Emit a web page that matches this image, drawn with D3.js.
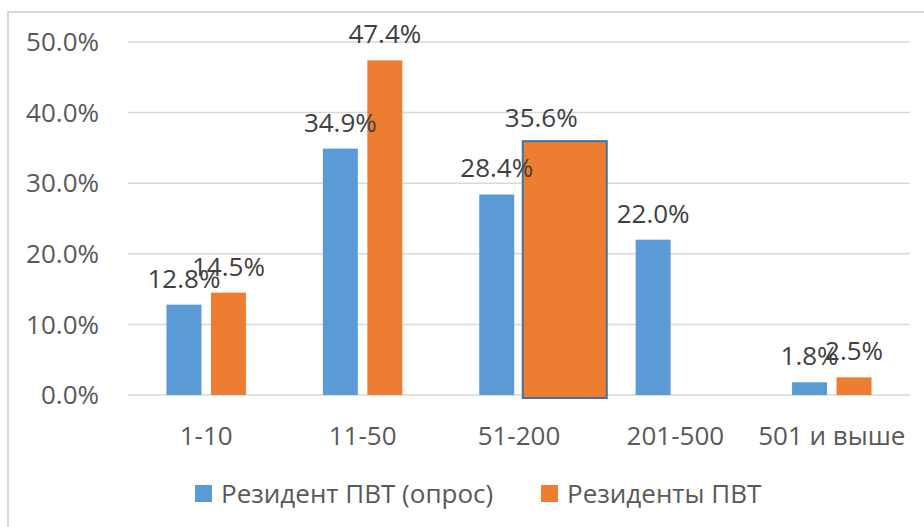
<!DOCTYPE html>
<html>
<head>
<meta charset="utf-8">
<script src="https://cdn.jsdelivr.net/npm/d3@7"></script>
<style>
  body { margin: 0; background: #fff; }
  svg { display: block; font-family: 'Open Sans', sans-serif; }
</style>
</head>
<body>
<div class="board"></div>
<script>
// chart data
var categories = ['1-10', '11-50', '51-200', '201-500', '501 и выше'];
var seriesNames = ['Резидент ПВТ (опрос)', 'Резиденты ПВТ'];
var surveyValues = [0.128, 0.349, 0.284, 0.220, 0.018];
var residentValues = [0.145, 0.474, 0.356, null, 0.025];
var yTicks = [0, 0.1, 0.2, 0.3, 0.4, 0.5];

var colors = ['#5b9bd5', '#ed7d31'];

var width = 924;
var height = 527;

var svg = d3.select('.board').append('svg')
  .attr('width', width)
  .attr('height', height);

// frame (only top / left edge visible)
svg.append('path')
  .attr('d', 'M8,' + height + 'V12H' + width)
  .attr('fill', 'none')
  .attr('stroke', '#d9d9d9')
  .attr('stroke-width', 2);

var x = d3.scaleBand().domain(categories).range([128, 910]);
var y = d3.scaleLinear().domain([0, 0.5]).range([395, 42]);

var barW = 35;
var groupW = 79.5;
var x1 = d3.scaleBand().domain([0, 1]).range([0, groupW]).paddingInner(0).paddingOuter(0);
var groupX = function(c) { return x(c) + (x.bandwidth() - groupW) / 2; };
var barX = function(c, s) { return groupX(c) + (s === 0 ? 0 : groupW - barW); };

// gridlines
svg.append('g').selectAll('line')
  .data(yTicks)
  .enter().append('line')
  .attr('x1', 128).attr('x2', 910)
  .attr('y1', function(d) { return y(d); })
  .attr('y2', function(d) { return y(d); })
  .attr('stroke', '#d9d9d9')
  .attr('stroke-width', 1.5);

// y tick labels
var fmt = d3.format('.1%');
svg.append('g').selectAll('text')
  .data(yTicks)
  .enter().append('text')
  .attr('x', 99)
  .attr('y', function(d) { return y(d); })
  .attr('dy', '0.35em')
  .attr('text-anchor', 'end')
  .attr('font-size', 26)
  .attr('fill', '#595959')
  .text(fmt);

// x labels
svg.append('g').selectAll('text')
  .data(categories)
  .enter().append('text')
  .attr('x', function(d) { return x(d) + x.bandwidth() / 2; })
  .attr('y', 445)
  .attr('text-anchor', 'middle')
  .attr('font-size', 26)
  .attr('fill', '#595959')
  .text(function(d) { return d; });

// bars
var bars = [];
categories.forEach(function(c, i) {
  [surveyValues[i], residentValues[i]].forEach(function(v, s) {
    if (v !== null) bars.push({cat: c, s: s, v: v});
  });
});

// the selected (outlined, stretched) bar in the source
var highlight = {cat: '51-200', s: 1};
var isHl = function(d) { return d.cat === highlight.cat && d.s === highlight.s; };

svg.append('g').selectAll('rect')
  .data(bars)
  .enter().append('rect')
  .attr('x', function(d) { return isHl(d) ? barX(d.cat, d.s) - 1 : barX(d.cat, d.s); })
  .attr('y', function(d) { return isHl(d) ? y(d.v) - 2.5 : y(d.v); })
  .attr('width', function(d) { return isHl(d) ? 84 : barW; })
  .attr('height', function(d) { return isHl(d) ? y(0) - y(d.v) + 5.5 : y(0) - y(d.v); })
  .attr('fill', function(d) { return colors[d.s]; })
  .attr('stroke', function(d) { return isHl(d) ? '#41719c' : 'none'; })
  .attr('stroke-width', 2);

// data labels
svg.append('g').selectAll('text')
  .data(bars)
  .enter().append('text')
  .attr('x', function(d) { return barX(d.cat, d.s) + barW / 2; })
  .attr('y', function(d) { return y(d.v) - 17; })
  .attr('text-anchor', 'middle')
  .attr('font-size', 26)
  .attr('fill', '#404040')
  .text(function(d) { return fmt(d.v); });

// legend
var legendX = [195, 541];
var legend = svg.append('g').selectAll('g')
  .data(seriesNames)
  .enter().append('g')
  .attr('transform', function(d, i) { return 'translate(' + legendX[i] + ',485)'; });

legend.append('rect')
  .attr('width', 17).attr('height', 17)
  .attr('fill', function(d, i) { return colors[i]; });

legend.append('text')
  .attr('x', 26)
  .attr('y', 18)
  .attr('font-size', 26)
  .attr('fill', '#595959')
  .text(function(d) { return d; });
</script>
</body>
</html>
